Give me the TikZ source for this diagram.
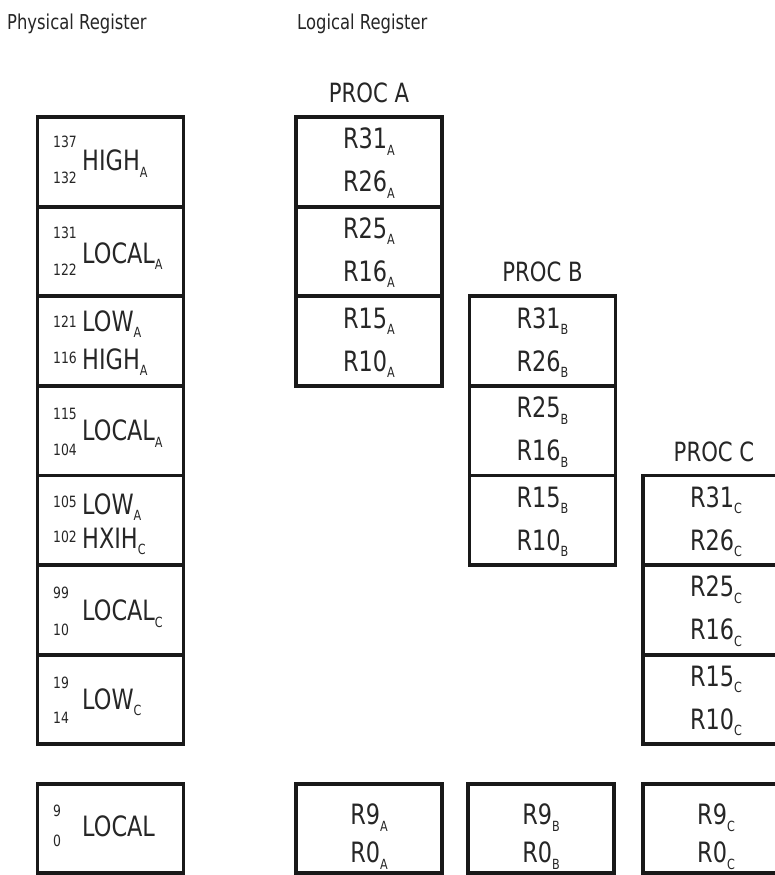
\documentclass[tikz,border=0pt]{standalone}
\usepackage{fontspec}
\setmainfont{DejaVu Sans}[FakeStretch=0.8]
\newcommand\sbs[1]{\raisebox{-6.5pt}{\fontsize{14}{14}\selectfont #1}}
\tikzset{
  regbox/.style={draw=black!90, line width=3.8pt, minimum width=146pt, minimum height=89.6pt, inner sep=0pt, outer sep=0pt},
  big/.style={font=\fontsize{28}{28}\selectfont, anchor=base, inner sep=0pt, text=black!85},
  bigl/.style={font=\fontsize{28}{28}\selectfont, anchor=base west, inner sep=0pt, text=black!85},
  num/.style={font=\fontsize{15.5}{15.5}\selectfont, anchor=west, inner sep=0pt, text=black!85},
  hdr/.style={font=\fontsize{20.5}{20.5}\selectfont, anchor=base west, inner sep=0pt, text=black!85},
  proc/.style={font=\fontsize{26.5}{26.5}\selectfont, anchor=base, inner sep=0pt, text=black!85}
}
\begin{document}
\begin{tikzpicture}[x=1pt,y=-1pt]
\useasboundingbox (0,0) rectangle (775,875);
\clip (0,0) rectangle (775,875);
\fill[white] (0,0) rectangle (775,875);
% headers
\node[hdr] (hp) at (7,30) {Physical Register};
\node[hdr] (hl) at (297,30) {Logical Register};
% physical column
\node[regbox] (p1) at (110.5,161.8) {};
\node[regbox] (p2) at (110.5,251.4) {};
\node[regbox] (p3) at (110.5,341.0) {};
\node[regbox] (p4) at (110.5,430.6) {};
\node[regbox] (p5) at (110.5,520.2) {};
\node[regbox] (p6) at (110.5,609.8) {};
\node[regbox] (p7) at (110.5,699.4) {};
\node[regbox] (p0) at (110.5,828.5) {};
% p1
\node[num] (p1a) at (53,161.8-20) {137};
\node[num] (p1b) at (53,161.8+16) {132};
\node[bigl] (p1w) at (82,161.8+9) {HIGH\sbs{A}};
% p2
\node[num] (p2a) at (53,251.4-19) {131};
\node[num] (p2b) at (53,251.4+18) {122};
\node[bigl] (p2w) at (82,251.4+12) {LOCAL\sbs{A}};
% p3
\node[num] (p3a) at (53,341-19) {121};
\node[num] (p3b) at (53,341+17) {116};
\node[bigl] (p3w) at (82,341-10) {LOW\sbs{A}};
\node[bigl] (p3v) at (82,341+28) {HIGH\sbs{A}};
% p4
\node[num] (p4a) at (53,430.6-17) {115};
\node[num] (p4b) at (53,430.6+19) {104};
\node[bigl] (p4w) at (82,430.6+10) {LOCAL\sbs{A}};
% p5
\node[num] (p5a) at (53,520.2-18) {105};
\node[num] (p5b) at (53,520.2+17) {102};
\node[bigl] (p5w) at (82,520.2-6) {LOW\sbs{A}};
\node[bigl] (p5v) at (82,520.2+28) {HXIH\sbs{C}};
% p6
\node[num] (p6a) at (53,609.8-17) {99};
\node[num] (p6b) at (53,609.8+20) {10};
\node[bigl] (p6w) at (82,609.8+11) {LOCAL\sbs{C}};
% p7
\node[num] (p7a) at (53,699.4-17) {19};
\node[num] (p7b) at (53,699.4+18) {14};
\node[bigl] (p7w) at (82,699.4+10) {LOW\sbs{C}};
% p0
\node[num] (p0a) at (53,828.5-18) {9};
\node[num] (p0b) at (53,828.5+12) {0};
\node[bigl] (p0w) at (82,828.5+8) {LOCAL};
% PROC A
\node[proc] (ha) at (369,102) {PROC A};
\node[regbox] (a1) at (369,161.8) {};
\node[regbox] (a2) at (369,251.4) {};
\node[regbox] (a3) at (369,341.0) {};
\node[big] (a1a) at (369,161.8-13) {R31\sbs{A}};
\node[big] (a1b) at (369,161.8+30) {R26\sbs{A}};
\node[big] (a2a) at (369,251.4-13) {R25\sbs{A}};
\node[big] (a2b) at (369,251.4+30) {R16\sbs{A}};
\node[big] (a3a) at (369,341-13) {R15\sbs{A}};
\node[big] (a3b) at (369,341+30) {R10\sbs{A}};
% PROC B
\node[proc] (hb) at (542.5,281) {PROC B};
\node[regbox] (b1) at (542.5,341.0) {};
\node[regbox] (b2) at (542.5,430.6) {};
\node[regbox] (b3) at (542.5,520.2) {};
\node[big] (b1a) at (542.5,341-13) {R31\sbs{B}};
\node[big] (b1b) at (542.5,341+30) {R26\sbs{B}};
\node[big] (b2a) at (542.5,430.6-13) {R25\sbs{B}};
\node[big] (b2b) at (542.5,430.6+30) {R16\sbs{B}};
\node[big] (b3a) at (542.5,520.2-13) {R15\sbs{B}};
\node[big] (b3b) at (542.5,520.2+30) {R10\sbs{B}};
% PROC C
\node[proc] (hc) at (714,461) {PROC C};
\node[regbox] (c1) at (716,520.2) {};
\node[regbox] (c2) at (716,609.8) {};
\node[regbox] (c3) at (716,699.4) {};
\node[big] (c1a) at (716,520.2-13) {R31\sbs{C}};
\node[big] (c1b) at (716,520.2+30) {R26\sbs{C}};
\node[big] (c2a) at (716,609.8-13) {R25\sbs{C}};
\node[big] (c2b) at (716,609.8+30) {R16\sbs{C}};
\node[big] (c3a) at (716,699.4-13) {R15\sbs{C}};
\node[big] (c3b) at (716,699.4+30) {R10\sbs{C}};
% bottom row
\node[regbox] (a0) at (369,828.5) {};
\node[regbox] (b0) at (541,828.5) {};
\node[regbox] (c0) at (716,828.5) {};
\node[big] (a0a) at (369,828.5-4) {R9\sbs{A}};
\node[big] (a0b) at (369,828.5+34) {R0\sbs{A}};
\node[big] (b0a) at (541,828.5-4) {R9\sbs{B}};
\node[big] (b0b) at (541,828.5+34) {R0\sbs{B}};
\node[big] (c0a) at (716,828.5-4) {R9\sbs{C}};
\node[big] (c0b) at (716,828.5+34) {R0\sbs{C}};
\end{tikzpicture}
\end{document}
